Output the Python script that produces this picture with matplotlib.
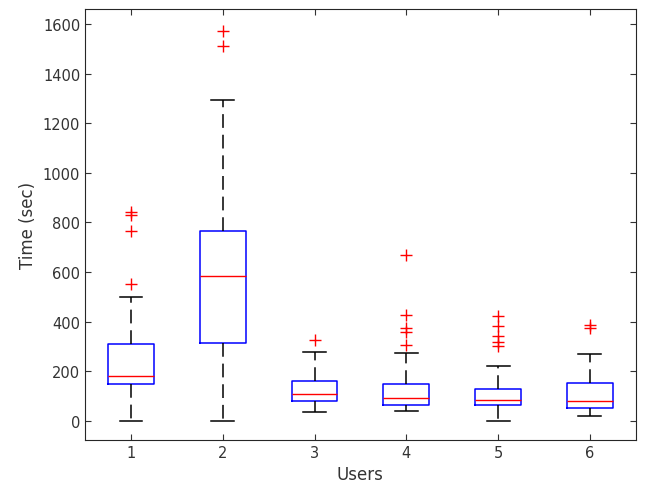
import matplotlib
matplotlib.use("Agg")
import matplotlib.pyplot as plt

users = [1, 2, 3, 4, 5, 6]
q1 = [149, 314, 79, 64, 64, 51]
med = [181, 583, 108, 94, 83, 79]
q3 = [309, 764, 161, 150, 128, 153]
wlo = [0, 0, 34, 40, 0, 20]
whi = [498, 1294, 279, 275, 222, 271]
outliers = [
    [841, 831, 764, 552],
    [1570, 1510],
    [326],
    [669, 427, 376, 357, 305],
    [422, 382, 341, 317, 301],
    [387, 376],
]

stats = []
for i in range(len(users)):
    stats.append(dict(label=str(users[i]), q1=q1[i], med=med[i], q3=q3[i],
                      whislo=wlo[i], whishi=whi[i], fliers=outliers[i]))

fig = plt.figure(figsize=(6.5, 5.02), dpi=100)
ax = fig.add_axes([0.131, 0.1215, 0.847, 0.8585])
ax.bxp(stats, positions=users, widths=0.5, showfliers=True,
       boxprops=dict(color='blue', linewidth=1.1),
       medianprops=dict(color='red', linewidth=1.0),
       whiskerprops=dict(color='black', linestyle=(0, (9, 4.5)), linewidth=1.1),
       capprops=dict(color='black', linewidth=1.1),
       flierprops=dict(marker='+', markeredgecolor='red', markersize=9,
                       markeredgewidth=1.0, linestyle='none'),
       capwidths=0.25)
ax.set_xlim(0.5, 6.5)
ax.set_ylim(-77, 1660)
ax.set_yticks(range(0, 1601, 200))
ax.set_xticks(users)
ax.set_xticklabels([str(u) for u in users])
ax.tick_params(direction='in', top=True, right=True, labelsize=10.5, colors='#333333', length=4)
for s in ax.spines.values():
    s.set_color('#262626')
ax.set_xlabel('Users', fontsize=12, color='#333333')
ax.set_ylabel('Time (sec)', fontsize=12, color='#333333')
fig.savefig('out.png', dpi=100)
